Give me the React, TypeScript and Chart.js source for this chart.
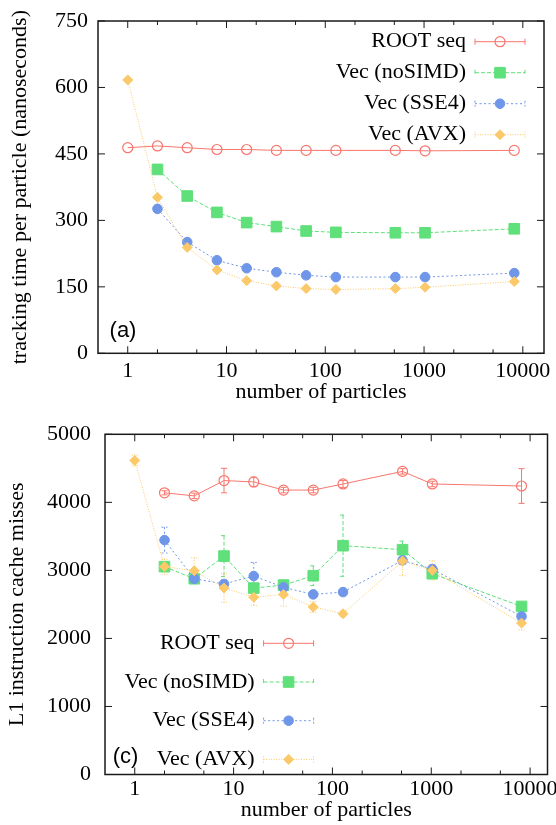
import { useEffect, useRef } from "react";
import { Chart, registerables, type Plugin } from "chart.js";

Chart.register(...registerables);

const SERIF = "'Liberation Serif', 'Times New Roman', serif";
const SANS = "'Liberation Sans', Arial, sans-serif";

const particles = [1, 2, 4, 8, 16, 32, 64, 128, 512, 1024, 8192];
const xMajorTicks = [1, 10, 100, 1000, 10000];
const xMinorTicks = [2, 5, 20, 50, 200, 500, 2000, 5000];

const seriesNames = ["ROOT seq", "Vec (noSIMD)", "Vec (SSE4)", "Vec (AVX)"];

// (a) tracking time per particle (ns)
const rootTime = [464, 468, 464, 460, 460, 458, 458, 458, 458, 457, 458];
const noSimdTime = [null, 415, 355, 318, 295, 286, 276, 273, 272, 272, 281];
const sse4Time = [null, 326, 251, 210, 192, 183, 176, 172, 172, 172, 181];
const avxTime = [617, 352, 239, 188, 164, 152, 146, 144, 146, 149, 162];
const timeTicks = [0, 150, 300, 450, 600, 750];

// (c) L1 instruction cache misses, with errors
const rootMiss = [null, 4140, 4095, 4320, 4300, 4180, 4180, 4270, 4455, 4270, 4240];
const rootMissErr = [0, 30, 40, 180, 70, 40, 40, 50, 40, 40, 255];
const noSimdMiss = [null, 3055, 2877, 3210, 2740, 2784, 2922, 3363, 3304, 2951, 2470];
const noSimdMissErr = [0, 60, 40, 300, 50, 40, 145, 450, 127, 60, 60];
const sse4Miss = [null, 3445, 2877, 2800, 2917, 2750, 2647, 2681, 3147, 3019, 2323];
const sse4MissErr = [0, 190, 40, 60, 200, 60, 40, 40, 60, 60, 80];
const avxMiss = [4615, 3055, 2995, 2740, 2605, 2647, 2461, 2363, 3137, 3000, 2225];
const avxMissErr = [80, 110, 190, 210, 120, 170, 80, 40, 215, 140, 100];
const missTicks = [0, 1000, 2000, 3000, 4000, 5000];

type Style = { color: string; dash: number[]; shape: "circle" | "rect" | "rectRot"; r: number; open: boolean };

const styles: Style[] = [
  { color: "#f8766d", dash: [], shape: "circle", r: 5, open: true },
  { color: "#5fe07a", dash: [4, 2], shape: "rect", r: 7.5, open: false },
  { color: "#6f96e8", dash: [2, 2.5], shape: "circle", r: 4.8, open: false },
  { color: "#fbc86a", dash: [1, 1.5], shape: "rectRot", r: 5, open: false },
];

function drawMarker(ctx: CanvasRenderingContext2D, s: Style, x: number, y: number) {
  ctx.save();
  ctx.setLineDash([]);
  ctx.beginPath();
  if (s.shape === "circle") {
    ctx.arc(x, y, s.r, 0, Math.PI * 2);
  } else if (s.shape === "rect") {
    const h = s.r * Math.SQRT1_2;
    ctx.rect(x - h, y - h, 2 * h, 2 * h);
  } else {
    ctx.moveTo(x - s.r, y);
    ctx.lineTo(x, y - s.r);
    ctx.lineTo(x + s.r, y);
    ctx.lineTo(x, y + s.r);
    ctx.closePath();
  }
  ctx.lineWidth = s.open ? 1.2 : 1;
  ctx.strokeStyle = s.color;
  if (!s.open) {
    ctx.fillStyle = s.color;
    ctx.fill();
  }
  ctx.stroke();
  ctx.restore();
}

type PanelProps = {
  height: number;
  values: (number | null)[][];
  errors?: number[][];
  ticks: number[];
  xMax: number;
  yTitle: string;
  yWidth: number;
  xHeight: number;
  padTop: number;
  padRight: number;
  yTickPad: number;
  xTickPad: number;
  yTitlePad: number;
  xTitlePad: number;
  legend: { right: number; y0: number; step: number };
  tag: { text: string; x: number; y: number };
};

const Panel = (p: PanelProps) => {
  const chartRef = useRef<HTMLCanvasElement>(null);

  useEffect(() => {
    const ctx = chartRef.current?.getContext("2d");
    if (!ctx) return;

    const datasets = p.values.map((vals, i) => {
      const s = styles[i];
      const data = particles
        .map((x, j) => ({ x, y: vals[j], e: p.errors ? p.errors[i][j] : 0 }))
        .filter((d) => d.y !== null);
      return {
        label: seriesNames[i],
        data,
        order: 3 - i,
        borderColor: s.color,
        borderWidth: 1,
        borderDash: s.dash,
        tension: 0,
        pointStyle: s.shape,
        pointRadius: s.r,
        pointBorderWidth: s.open ? 1.2 : 1,
        pointBorderColor: s.color,
        pointBackgroundColor: s.open ? "rgba(0,0,0,0)" : s.color,
      };
    });

    const errorBars: Plugin<"line"> = {
      id: "errorBars",
      beforeDatasetsDraw(chart) {
        const c = chart.ctx;
        const xs = chart.scales.x;
        const ys = chart.scales.y;
        c.save();
        chart.data.datasets.forEach((ds, i) => {
          const s = styles[i];
          c.strokeStyle = s.color;
          c.lineWidth = 1;
          c.setLineDash(s.dash);
          (ds.data as any[]).forEach((d) => {
            if (!d.e) return;
            const px = xs.getPixelForValue(d.x);
            const top = ys.getPixelForValue(d.y + d.e);
            const bot = ys.getPixelForValue(d.y - d.e);
            c.beginPath();
            c.moveTo(px, top);
            c.lineTo(px, bot);
            c.moveTo(px - 3, top);
            c.lineTo(px + 3, top);
            c.moveTo(px - 3, bot);
            c.lineTo(px + 3, bot);
            c.stroke();
          });
        });
        c.restore();
      },
    };

    const frame: Plugin<"line"> = {
      id: "frame",
      afterDatasetsDraw(chart) {
        const c = chart.ctx;
        const a = chart.chartArea;
        const xs = chart.scales.x;
        const ys = chart.scales.y;
        c.save();
        c.setLineDash([]);
        c.strokeStyle = "#1a1a1a";
        c.lineWidth = 1;
        const line = (x1: number, y1: number, x2: number, y2: number) => {
          c.beginPath();
          c.moveTo(x1, y1);
          c.lineTo(x2, y2);
          c.stroke();
        };
        xMajorTicks.forEach((v) => {
          const px = xs.getPixelForValue(v);
          line(px, a.bottom, px, a.bottom - 7);
          line(px, a.top, px, a.top + 7);
        });
        xMinorTicks.forEach((v) => {
          const px = xs.getPixelForValue(v);
          line(px, a.bottom, px, a.bottom - 4);
          line(px, a.top, px, a.top + 4);
        });
        p.ticks.forEach((v) => {
          const py = ys.getPixelForValue(v);
          line(a.left, py, a.left + 7, py);
          line(a.right, py, a.right - 7, py);
        });
        c.lineWidth = 1.5;
        c.strokeRect(a.left, a.top, a.right - a.left, a.bottom - a.top);
        c.restore();
      },
    };

    const legendAndTag: Plugin<"line"> = {
      id: "legendAndTag",
      afterDraw(chart) {
        const c = chart.ctx;
        c.save();
        c.font = `22px ${SERIF}`;
        c.fillStyle = "#000";
        c.textAlign = "right";
        c.textBaseline = "middle";
        seriesNames.forEach((name, i) => {
          const s = styles[i];
          const y = p.legend.y0 + i * p.legend.step;
          const x1 = p.legend.right + 9;
          const x2 = p.legend.right + 59;
          c.fillStyle = "#000";
          c.fillText(name, p.legend.right, y);
          c.strokeStyle = s.color;
          c.lineWidth = 1;
          c.setLineDash(s.dash);
          c.beginPath();
          c.moveTo(x1, y);
          c.lineTo(x2, y);
          c.moveTo(x1, y - 3);
          c.lineTo(x1, y + 3);
          c.moveTo(x2, y - 3);
          c.lineTo(x2, y + 3);
          c.stroke();
          drawMarker(c, s, (x1 + x2) / 2, y);
        });
        c.setLineDash([]);
        c.font = `22px ${SANS}`;
        c.textAlign = "center";
        c.fillStyle = "#000";
        c.fillText(p.tag.text, p.tag.x, p.tag.y);
        c.restore();
      },
    };

    const chart = new Chart(ctx, {
      type: "line",
      data: { datasets: datasets as any },
      plugins: [errorBars, frame, legendAndTag],
      options: {
        animation: false,
        responsive: false,
        devicePixelRatio: 1,
        layout: { padding: { top: p.padTop, right: p.padRight, left: 0, bottom: 0 } },
        plugins: { legend: { display: false }, tooltip: { enabled: false } },
        scales: {
          x: {
            type: "logarithmic",
            min: 0.5,
            max: p.xMax,
            grid: { display: false, drawTicks: false },
            border: { display: false },
            afterBuildTicks: (scale) => {
              scale.ticks = xMajorTicks.map((v) => ({ value: v }));
            },
            afterFit: (scale) => {
              scale.height = p.xHeight;
              scale.paddingLeft = 0;
              scale.paddingRight = 0;
            },
            ticks: {
              autoSkip: false,
              maxRotation: 0,
              padding: p.xTickPad,
              color: "#000",
              font: { family: SERIF, size: 22 },
              callback: (v) => String(v),
            },
            title: {
              display: true,
              text: "number of particles",
              color: "#000",
              font: { family: SERIF, size: 22 },
              padding: { top: 0, bottom: p.xTitlePad },
            },
          },
          y: {
            type: "linear",
            min: p.ticks[0],
            max: p.ticks[p.ticks.length - 1],
            grid: { display: false, drawTicks: false },
            border: { display: false },
            afterBuildTicks: (scale) => {
              scale.ticks = p.ticks.map((v) => ({ value: v }));
            },
            afterFit: (scale) => {
              scale.width = p.yWidth;
              scale.paddingTop = 0;
              scale.paddingBottom = 0;
            },
            ticks: {
              padding: p.yTickPad,
              color: "#000",
              font: { family: SERIF, size: 22 },
              callback: (v) => String(v),
            },
            title: {
              display: true,
              text: p.yTitle,
              color: "#000",
              font: { family: SERIF, size: 22 },
              padding: { top: p.yTitlePad, bottom: 0 },
            },
          },
        },
      },
    });

    return () => {
      chart.destroy();
    };
  }, [p]);

  return <canvas ref={chartRef} width={556} height={p.height} style={{ display: "block" }} />;
};

const topProps: PanelProps = {
  height: 410,
  values: [rootTime, noSimdTime, sse4Time, avxTime],
  ticks: timeTicks,
  xMax: 16384,
  yTitle: "tracking time per particle (nanoseconds)",
  yWidth: 98,
  xHeight: 56.7,
  padTop: 21,
  padRight: 12,
  yTickPad: 10,
  xTickPad: 5,
  yTitlePad: 7,
  xTitlePad: 5,
  legend: { right: 466, y0: 41.7, step: 31 },
  tag: { text: "(a)", x: 123, y: 331 },
};

const bottomProps: PanelProps = {
  height: 415,
  values: [rootMiss, noSimdMiss, sse4Miss, avxMiss],
  errors: [rootMissErr, noSimdMissErr, sse4MissErr, avxMissErr],
  ticks: missTicks,
  xMax: 15000,
  yTitle: "L1 instruction cache misses",
  yWidth: 105,
  xHeight: 50.5,
  padTop: 24.3,
  padRight: 6,
  yTickPad: 14,
  xTickPad: 2,
  yTitlePad: 4,
  xTitlePad: 2,
  legend: { right: 254.6, y0: 233.3, step: 38.7 },
  tag: { text: "(c)", x: 125.5, y: 346.7 },
};

const App = () => (
  <div style={{ position: "absolute", left: 0, top: 0, width: 556, height: 825, background: "#fff" }}>
    <Panel {...topProps} />
    <Panel {...bottomProps} />
  </div>
);

export default App;
